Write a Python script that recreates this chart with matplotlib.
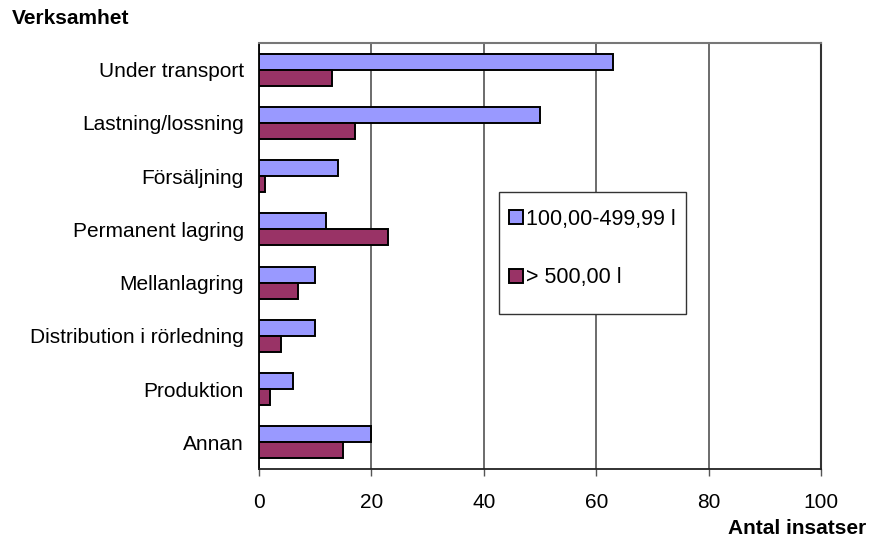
import numpy as np
import matplotlib.pyplot as plt
from matplotlib.patches import Rectangle

plt.rcParams['font.family'] = ['Liberation Sans', 'DejaVu Sans']

categories = ['Under transport', 'Lastning/lossning', 'Försäljning', 'Permanent lagring',
              'Mellanlagring', 'Distribution i rörledning', 'Produktion', 'Annan']
small = [63, 50, 14, 12, 10, 10, 6, 20]
large = [13, 17, 1, 23, 7, 4, 2, 15]
series_names = ['100,00-499,99 l', '> 500,00 l']
xticks = [0, 20, 40, 60, 80, 100]

fig = plt.figure(figsize=(8.69, 5.38), dpi=100)
ax = fig.add_axes([259/869, 1-469/538, (821-259)/869, (469-43)/538])

y = np.arange(len(categories))
h = 0.3
ax.barh(y - h/2, small, height=h, color='#9999ff', edgecolor='black', linewidth=1.4, label=series_names[0], zorder=3)
ax.barh(y + h/2, large, height=h, color='#993366', edgecolor='black', linewidth=1.4, label=series_names[1], zorder=3)

ax.set_ylim(len(categories) - 0.5, -0.5)
ax.set_xlim(0, 100)
ax.set_yticks(y)
ax.set_yticklabels(categories, fontsize=15)
ax.tick_params(axis='y', length=0, pad=11)
ax.set_xticks(xticks)
ax.set_xticklabels([str(t) for t in xticks], fontsize=15)
ax.tick_params(axis='x', length=5, width=1, color='#555555', pad=12)
ax.xaxis.grid(True, color='#444444', linewidth=1.1, zorder=0)

ax.spines['left'].set_color('black')
ax.spines['left'].set_linewidth(1.3)
ax.spines['bottom'].set_color('#222222')
ax.spines['bottom'].set_linewidth(1.3)
ax.spines['top'].set_color('#777777')
ax.spines['top'].set_linewidth(1.5)
ax.spines['right'].set_color('#333333')
ax.spines['right'].set_linewidth(1.5)

fig.text(12/869, 1-19/538, 'Verksamhet', fontsize=15, fontweight='bold', va='center', ha='left')
fig.text(866/869, 1-529/538, 'Antal insatser', fontsize=15, fontweight='bold', va='center', ha='right')

# legend box
box = Rectangle(((499-259)/562, (469-314)/426), (686-499)/562, (314-192)/426,
                transform=ax.transAxes, facecolor='white', edgecolor='#333333',
                linewidth=1.0, zorder=5)
ax.add_patch(box)
leg = ax.legend(loc='center left', bbox_to_anchor=((509-259)/562, (469-248.5)/426),
                fontsize=15.5, frameon=False, handlelength=0.66, handleheight=0.66,
                handletextpad=0.15, labelspacing=1.75, borderpad=0, borderaxespad=0)
leg.set_zorder(6)

fig.savefig('out.png', dpi=100)
